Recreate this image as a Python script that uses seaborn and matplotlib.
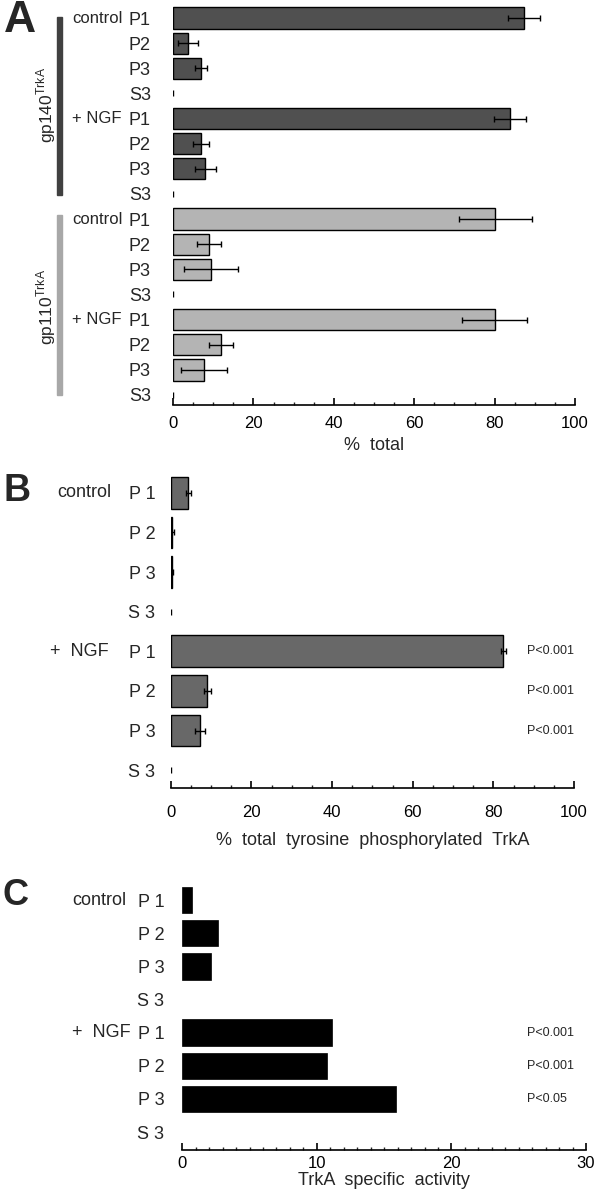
import numpy as np
import pandas as pd
import matplotlib
matplotlib.use('Agg')
import matplotlib.pyplot as plt
import seaborn as sns
from matplotlib.ticker import MultipleLocator
from matplotlib.transforms import blended_transform_factory
from matplotlib.patches import Rectangle

# data
fractions = ['P1', 'P2', 'P3', 'S3']
treatments = ['control', '+ NGF']

# A: % total for gp140TrkA and gp110TrkA
a_gp140 = [87.3, 3.7, 7.0, 0, 83.8, 7.0, 8.0, 0]
a_gp140_err = [4.0, 2.5, 1.5, 0, 4.0, 2.0, 2.6, 0]
a_gp110 = [80.2, 9.0, 9.5, 0, 80.0, 11.9, 7.7, 0]
a_gp110_err = [9.0, 3.0, 6.7, 0, 8.0, 3.0, 5.8, 0]

# B: % total tyrosine phosphorylated TrkA
b_vals = [4.4, 0.3, 0.3, 0, 82.5, 9.1, 7.3, 0]
b_err = [0.6, 0.4, 0.2, 0, 0.6, 0.8, 1.2, 0]
b_pvals = ['', '', '', '', 'P<0.001', 'P<0.001', 'P<0.001', '']

# C: TrkA specific activity
c_vals = [0.72, 2.65, 2.15, 0, 11.1, 10.75, 15.9, 0]
c_pvals = ['', '', '', '', 'P<0.001', 'P<0.001', 'P<0.05', '']

sns.set_style('white')
plt.rcParams['font.family'] = ['Liberation Sans', 'DejaVu Sans']

fig = plt.figure(figsize=(6, 12), dpi=100)
W, H = 600.0, 1200.0


def px_axes(x0, x1, y0, y1):
    return fig.add_axes([x0 / W, 1 - y1 / H, (x1 - x0) / W, (y1 - y0) / H])


def style_x(ax, major, minor, fs, xlabel, pad=5, labelpad=1):
    for s in ['top', 'right', 'left']:
        ax.spines[s].set_visible(False)
    ax.spines['bottom'].set_linewidth(1.2)
    ax.spines['bottom'].set_color('black')
    ax.xaxis.set_major_locator(MultipleLocator(major))
    ax.xaxis.set_minor_locator(MultipleLocator(minor))
    ax.tick_params(axis='x', which='major', direction='in', length=5, width=1.2,
                   labelsize=fs, pad=pad, bottom=True, colors='black')
    ax.tick_params(axis='x', which='minor', direction='in', length=2.5, width=1,
                   bottom=True)
    ax.set_xlabel(xlabel, fontsize=13, labelpad=labelpad)


def zero_marks(ax, values):
    # zero-height bars: hide the edge line, show only a small mark at 0
    for p in ax.patches:
        if p.get_width() == 0:
            p.set_linewidth(0)
    vals = np.asarray(values, dtype=float)
    idx = np.where(vals == 0)[0]
    ax.plot(vals[idx], idx, ls='none', marker='|', ms=4, mew=1, color='black')


# ---------------- A ----------------
rows = [f'{r}{t} {f}' for r in ['gp140', 'gp110'] for t in treatments for f in fractions]
df_a = pd.DataFrame({
    'row': rows,
    'value': a_gp140 + a_gp110,
    'err': a_gp140_err + a_gp110_err,
    'receptor': ['gp140'] * 8 + ['gp110'] * 8,
})
ax = px_axes(173, 575, 5.5, 405)
sns.barplot(data=df_a, x='value', y='row', hue='receptor', dodge=False, orient='h',
            palette={'gp140': '#505050', 'gp110': '#b4b4b4'}, width=0.85,
            edgecolor='black', linewidth=1, errorbar=None, legend=False, ax=ax)
m = df_a['err'] > 0
ax.errorbar(df_a.loc[m, 'value'], np.arange(16)[m], xerr=df_a.loc[m, 'err'],
            fmt='none', ecolor='black', elinewidth=1, capsize=2, capthick=1)
zero_marks(ax, df_a['value'])
ax.set_xlim(0, 100)
ax.set_ylim(15.4, -0.5)
ax.set_yticks(range(16))
ax.set_yticklabels(fractions * 4, fontsize=13)
ax.tick_params(axis='y', length=0, pad=16)
ax.set_ylabel('')
style_x(ax, 20, 5, 12, '%  total', pad=8, labelpad=4)
tr = blended_transform_factory(fig.transFigure, ax.transData)
for i, t in zip([0, 4, 8, 12], treatments * 2):
    ax.text(72 / W, i, t, transform=tr, fontsize=12, ha='left', va='center')
fig.add_artist(Rectangle((57 / W, 1 - 195 / H), 5 / W, 178 / H, color='#404040',
                         transform=fig.transFigure))
fig.add_artist(Rectangle((57 / W, 1 - 395 / H), 5 / W, 180 / H, color='#a8a8a8',
                         transform=fig.transFigure))
fig.text(46 / W, 1 - 105 / H, r'gp140$^{\mathregular{TrkA}}$', rotation=90,
         fontsize=12.5, ha='center', va='center')
fig.text(46 / W, 1 - 307 / H, r'gp110$^{\mathregular{TrkA}}$', rotation=90,
         fontsize=12.5, ha='center', va='center')
fig.text(4 / W, 1 - 0 / H, 'A', fontsize=32, fontweight='bold', ha='left', va='top')

# ---------------- B ----------------
rows_b = [f'{t} {f}' for t in treatments for f in fractions]
df_b = pd.DataFrame({'row': rows_b, 'value': b_vals, 'err': b_err})
ax = px_axes(170.7, 574, 473, 788)
sns.barplot(data=df_b, x='value', y='row', color='#686868', orient='h', width=0.8,
            edgecolor='black', linewidth=1, errorbar=None, ax=ax)
m = df_b['err'] > 0
ax.errorbar(df_b.loc[m, 'value'], np.arange(8)[m], xerr=df_b.loc[m, 'err'],
            fmt='none', ecolor='black', elinewidth=1, capsize=2, capthick=1)
zero_marks(ax, df_b['value'])
ax.set_xlim(0, 100)
ax.set_ylim(7.45, -0.5)
ax.set_yticks(range(8))
ax.set_yticklabels([f[0] + ' ' + f[1] for f in fractions * 2], fontsize=13)
ax.tick_params(axis='y', length=0, pad=11)
ax.set_ylabel('')
style_x(ax, 20, 5, 12, '%  total  tyrosine  phosphorylated  TrkA', pad=12, labelpad=9)
for i, p in enumerate(b_pvals):
    if p:
        ax.text(1.0, i, p, transform=blended_transform_factory(ax.transAxes, ax.transData),
                fontsize=9, ha='right', va='center')
tr = blended_transform_factory(fig.transFigure, ax.transData)
ax.text(57 / W, 0, 'control', transform=tr, fontsize=13, ha='left', va='center')
ax.text(50 / W, 4, '+  NGF', transform=tr, fontsize=13, ha='left', va='center')
fig.text(3 / W, 1 - 473 / H, 'B', fontsize=27, fontweight='bold', ha='left', va='top')

# ---------------- C ----------------
df_c = pd.DataFrame({'row': rows_b, 'value': c_vals})
ax = px_axes(182.3, 586, 883.5, 1150)
sns.barplot(data=df_c, x='value', y='row', color='black', orient='h', width=0.8,
            edgecolor='black', linewidth=0.5, errorbar=None, ax=ax)
for p in ax.patches:
    if p.get_width() == 0:
        p.set_linewidth(0)
ax.set_xlim(0, 30)
ax.set_ylim(7.54, -0.5)
ax.set_yticks(range(8))
ax.set_yticklabels([f[0] + ' ' + f[1] for f in fractions * 2], fontsize=13)
ax.tick_params(axis='y', length=0, pad=13)
ax.set_ylabel('')
style_x(ax, 10, 1, 12, 'TrkA  specific  activity', pad=4)
for i, p in enumerate(c_pvals):
    if p:
        ax.text(527 / W, i, p, transform=blended_transform_factory(fig.transFigure, ax.transData),
                fontsize=9, ha='left', va='center')
tr = blended_transform_factory(fig.transFigure, ax.transData)
ax.text(72 / W, 0, 'control', transform=tr, fontsize=13, ha='left', va='center')
ax.text(72 / W, 4, '+  NGF', transform=tr, fontsize=13, ha='left', va='center')
fig.text(3 / W, 1 - 878 / H, 'C', fontsize=26, fontweight='bold', ha='left', va='top')

fig.savefig('out.png', dpi=100)
